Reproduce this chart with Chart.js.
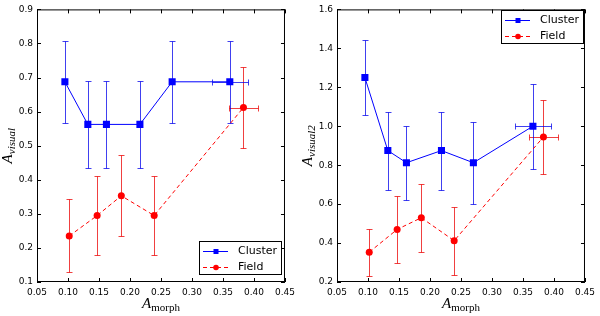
<!DOCTYPE html>
<html>
<head>
<meta charset="utf-8">
<script src="https://cdn.jsdelivr.net/npm/chart.js@4"></script>
<style>
  html, body { margin: 0; padding: 0; background: #fff; }
  #wrap { position: relative; width: 600px; height: 316px; }
  canvas { position: absolute; top: 0; }
</style>
</head>
<body>
<div id="wrap">
  <canvas id="left" width="300" height="316" style="left:0"></canvas>
  <canvas id="right" width="300" height="316" style="left:300px"></canvas>
</div>
<script>
// data
const xTicks = [0.05, 0.10, 0.15, 0.20, 0.25, 0.30, 0.35, 0.40, 0.45];

const clusterX1 = [0.095, 0.132, 0.162, 0.216, 0.268, 0.361];
const clusterXErr1 = [0, 0, 0, 0, 0, 0.029];
const clusterY1 = [0.6875, 0.5625, 0.5625, 0.5625, 0.6875, 0.6875];
const clusterLo1 = [0.568, 0.435, 0.435, 0.435, 0.568, 0.568];
const clusterHi1 = [0.807, 0.690, 0.690, 0.690, 0.807, 0.807];

const fieldX = [0.102, 0.147, 0.186, 0.239, 0.383];
const fieldXErr = [0, 0, 0, 0, 0.024];
const fieldY1 = [0.235, 0.295, 0.353, 0.295, 0.612];
const fieldLo1 = [0.130, 0.180, 0.235, 0.180, 0.492];
const fieldHi1 = [0.343, 0.410, 0.473, 0.410, 0.730];

const clusterX2 = [0.095, 0.132, 0.162, 0.2185, 0.270, 0.366];
const clusterXErr2 = [0, 0, 0, 0, 0, 0.029];
const clusterY2 = [1.25, 0.875, 0.8125, 0.875, 0.8125, 1.0];
const clusterLo2 = [1.057, 0.670, 0.620, 0.670, 0.600, 0.780];
const clusterHi2 = [1.445, 1.075, 1.000, 1.075, 1.023, 1.217];

const fieldY2 = [0.353, 0.470, 0.530, 0.412, 0.945];
const fieldLo2 = [0.232, 0.298, 0.353, 0.237, 0.755];
const fieldHi2 = [0.470, 0.642, 0.703, 0.585, 1.133];

const BLUE = '#0000ff';
const RED = '#ff0000';

function pts(xs, ys, xe, lo, hi) {
  return xs.map((x, i) => ({ x: x, y: ys[i], xe: xe[i], lo: lo[i], hi: hi[i] }));
}

// error bars, under the markers
const errorBars = {
  id: 'errorBars',
  beforeDatasetsDraw(chart) {
    const { ctx, scales: { x, y } } = chart;
    ctx.save();
    ctx.lineWidth = 1;
    chart.data.datasets.forEach(ds => {
      ctx.strokeStyle = ds.errColor;
      ds.data.forEach(p => {
        const px = Math.round(x.getPixelForValue(p.x)) + 0.5;
        const py = y.getPixelForValue(p.y);
        const yl = Math.round(y.getPixelForValue(p.lo)) + 0.5;
        const yh = Math.round(y.getPixelForValue(p.hi)) + 0.5;
        ctx.beginPath();
        ctx.moveTo(px, yl); ctx.lineTo(px, yh);
        ctx.moveTo(px - 3, yl); ctx.lineTo(px + 3, yl);
        ctx.moveTo(px - 3, yh); ctx.lineTo(px + 3, yh);
        if (p.xe) {
          const xl = Math.round(x.getPixelForValue(p.x - p.xe)) + 0.5;
          const xh = Math.round(x.getPixelForValue(p.x + p.xe)) + 0.5;
          const yy = Math.round(py) + 0.5;
          ctx.moveTo(xl, yy); ctx.lineTo(xh, yy);
          ctx.moveTo(xl, yy - 3); ctx.lineTo(xl, yy + 3);
          ctx.moveTo(xh, yy - 3); ctx.lineTo(xh, yy + 3);
        }
        ctx.stroke();
      });
    });
    ctx.restore();
  }
};

// frame, inward ticks, axis titles and legend in matplotlib style
const decor = {
  id: 'decor',
  afterDraw(chart, args, opts) {
    const { ctx, chartArea: a, scales: { x, y } } = chart;
    ctx.save();
    ctx.strokeStyle = '#000';
    ctx.lineWidth = 1;
    ctx.strokeRect(a.left + 0.5, a.top + 0.5, a.right - a.left - 1, a.bottom - a.top - 1);
    ctx.beginPath();
    x.ticks.forEach(t => {
      const px = Math.round(x.getPixelForValue(t.value)) + 0.5;
      ctx.moveTo(px, a.bottom); ctx.lineTo(px, a.bottom - 4);
      ctx.moveTo(px, a.top); ctx.lineTo(px, a.top + 4);
    });
    y.ticks.forEach(t => {
      const py = Math.round(y.getPixelForValue(t.value)) + 0.5;
      ctx.moveTo(a.left, py); ctx.lineTo(a.left + 4, py);
      ctx.moveTo(a.right, py); ctx.lineTo(a.right - 4, py);
    });
    ctx.stroke();

    // axis titles
    ctx.fillStyle = '#000';
    ctx.textBaseline = 'alphabetic';
    const big = 'italic 15px "Liberation Serif"';
    ctx.font = big;
    const wA = ctx.measureText('A').width;
    ctx.font = '11px "Liberation Serif"';
    const wM = ctx.measureText('morph').width;
    let sx = (a.left + a.right) / 2 - (wA + wM) / 2;
    ctx.font = big;
    ctx.fillText('A', sx, 308);
    ctx.font = '11px "Liberation Serif"';
    ctx.fillText('morph', sx + wA, 311);

    ctx.translate(12, (a.top + a.bottom) / 2);
    ctx.rotate(-Math.PI / 2);
    ctx.font = 'italic 11px "Liberation Serif"';
    const wS = ctx.measureText(opts.ySub).width;
    sx = -(wA + wS) / 2;
    ctx.font = big;
    ctx.fillText('A', sx, 0);
    ctx.font = 'italic 11px "Liberation Serif"';
    ctx.fillText(opts.ySub, sx + wA, 3);
    ctx.setTransform(1, 0, 0, 1, 0, 0);

    // legend
    const L = opts.legend;
    ctx.fillStyle = '#fff';
    ctx.fillRect(L.x, L.y, 82, 33);
    ctx.strokeStyle = '#000';
    ctx.strokeRect(L.x + 0.5, L.y + 0.5, 82, 33);
    const rows = [
      { label: 'Cluster', color: BLUE, dash: [], shape: 'rect', dy: 10 },
      { label: 'Field', color: RED, dash: [4, 3], shape: 'circle', dy: 26 }
    ];
    rows.forEach(r => {
      const cy = L.y + r.dy + 0.5;
      ctx.strokeStyle = r.color;
      ctx.setLineDash(r.dash);
      ctx.beginPath();
      ctx.moveTo(L.x + 4, cy); ctx.lineTo(L.x + 29, cy);
      ctx.stroke();
      ctx.setLineDash([]);
      ctx.fillStyle = r.color;
      if (r.shape === 'rect') {
        ctx.fillRect(L.x + 14.5, cy - 2.5, 5, 5);
      } else {
        ctx.beginPath();
        ctx.arc(L.x + 17, cy, 2.8, 0, Math.PI * 2);
        ctx.fill();
      }
      ctx.fillStyle = '#000';
      ctx.font = '11px "DejaVu Sans"';
      ctx.textBaseline = 'middle';
      ctx.fillText(r.label, L.x + 39, cy);
    });
    ctx.restore();
  }
};

function makeChart(id, cluster, field, yMin, yMax, yStep, ySub, legendPos) {
  return new Chart(document.getElementById(id), {
    type: 'scatter',
    data: {
      datasets: [
        {
          label: 'Field',
          data: field,
          showLine: true,
          borderColor: RED,
          borderWidth: 1,
          borderDash: [4, 3],
          backgroundColor: RED,
          pointStyle: 'circle',
          pointRadius: 3.5,
          pointBorderWidth: 0,
          errColor: 'rgba(235,0,0,0.75)'
        },
        {
          label: 'Cluster',
          data: cluster,
          showLine: true,
          borderColor: BLUE,
          borderWidth: 1,
          backgroundColor: BLUE,
          pointStyle: 'rect',
          pointRadius: 5,
          pointBorderWidth: 0,
          errColor: 'rgba(0,0,235,0.75)'
        }
      ]
    },
    options: {
      responsive: false,
      animation: false,
      layout: { padding: { left: 0, top: 5, right: 13, bottom: 0 } },
      plugins: {
        legend: { display: false },
        tooltip: { enabled: false },
        decor: { ySub: ySub, legend: legendPos }
      },
      scales: {
        x: {
          type: 'linear',
          min: 0.05, max: 0.45,
          afterBuildTicks: s => { s.ticks = xTicks.map(v => ({ value: v })); },
          afterFit: s => { s.height = 34; },
          grid: { display: false, drawTicks: false },
          border: { display: false },
          ticks: {
            autoSkip: false, maxRotation: 0, padding: 5, color: '#000',
            font: { family: 'DejaVu Sans', size: 9 },
            callback: v => v.toFixed(2)
          }
        },
        y: {
          type: 'linear',
          min: yMin, max: yMax,
          afterFit: s => { s.width = 37; },
          grid: { display: false, drawTicks: false },
          border: { display: false },
          ticks: {
            stepSize: yStep, autoSkip: false, padding: 4, color: '#000',
            font: { family: 'DejaVu Sans', size: 9 },
            callback: v => v.toFixed(1)
          }
        }
      }
    },
    plugins: [errorBars, decor]
  });
}

makeChart('left',
  pts(clusterX1, clusterY1, clusterXErr1, clusterLo1, clusterHi1),
  pts(fieldX, fieldY1, fieldXErr, fieldLo1, fieldHi1),
  0.1, 0.9, 0.1, 'visual', { x: 199, y: 241 });

makeChart('right',
  pts(clusterX2, clusterY2, clusterXErr2, clusterLo2, clusterHi2),
  pts(fieldX, fieldY2, fieldXErr, fieldLo2, fieldHi2),
  0.2, 1.6, 0.2, 'visual2', { x: 201, y: 10 });
</script>
</body>
</html>
